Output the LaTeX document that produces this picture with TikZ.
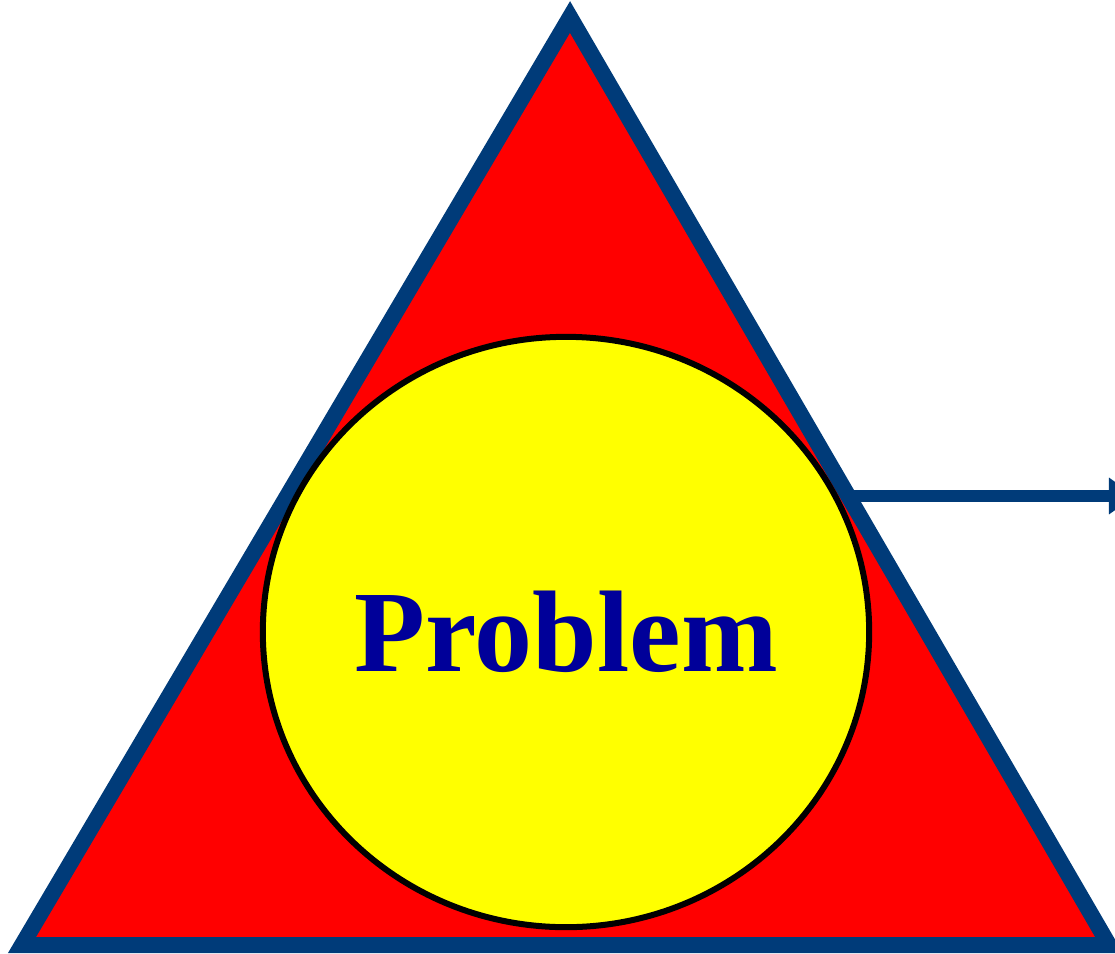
\documentclass[tikz,border=0pt]{standalone}
\usepackage{fontspec}
\setmainfont{Liberation Serif}
\usepackage{tikz}
\usetikzlibrary{calc,arrows.meta,shapes.geometric}
\definecolor{navy}{HTML}{003B79}
\definecolor{probred}{HTML}{FF0000}
\definecolor{probyellow}{HTML}{FFFF00}
\definecolor{probtext}{HTML}{000099}

\begin{document}
\begin{tikzpicture}[x=0.01cm,y=0.01cm]
\useasboundingbox (0,0) rectangle (1115,953);
% triangle corners
\coordinate (top) at (570,936);
\coordinate (bl) at (22,8);
\coordinate (br) at (1109,8);
\coordinate (start) at ($(br)!0.484!(top)$);
\coordinate (tip) at (1135,457);
\fill[probred,draw=navy,line width=0.16cm,line join=miter] (top)--(bl)--(br)--cycle;
\draw[navy,line width=0.12cm,-{Triangle[width=0.35cm,length=0.26cm]}] (start|-tip)--(tip);
\node[ellipse,draw=black,line width=0.06cm,fill=probyellow,inner sep=0pt,minimum width=6.06cm,minimum height=5.90cm,
  font=\fontsize{33}{36}\selectfont\bfseries,text=probtext] (prob) at (566,321) {Problem};
\end{tikzpicture}
\end{document}
